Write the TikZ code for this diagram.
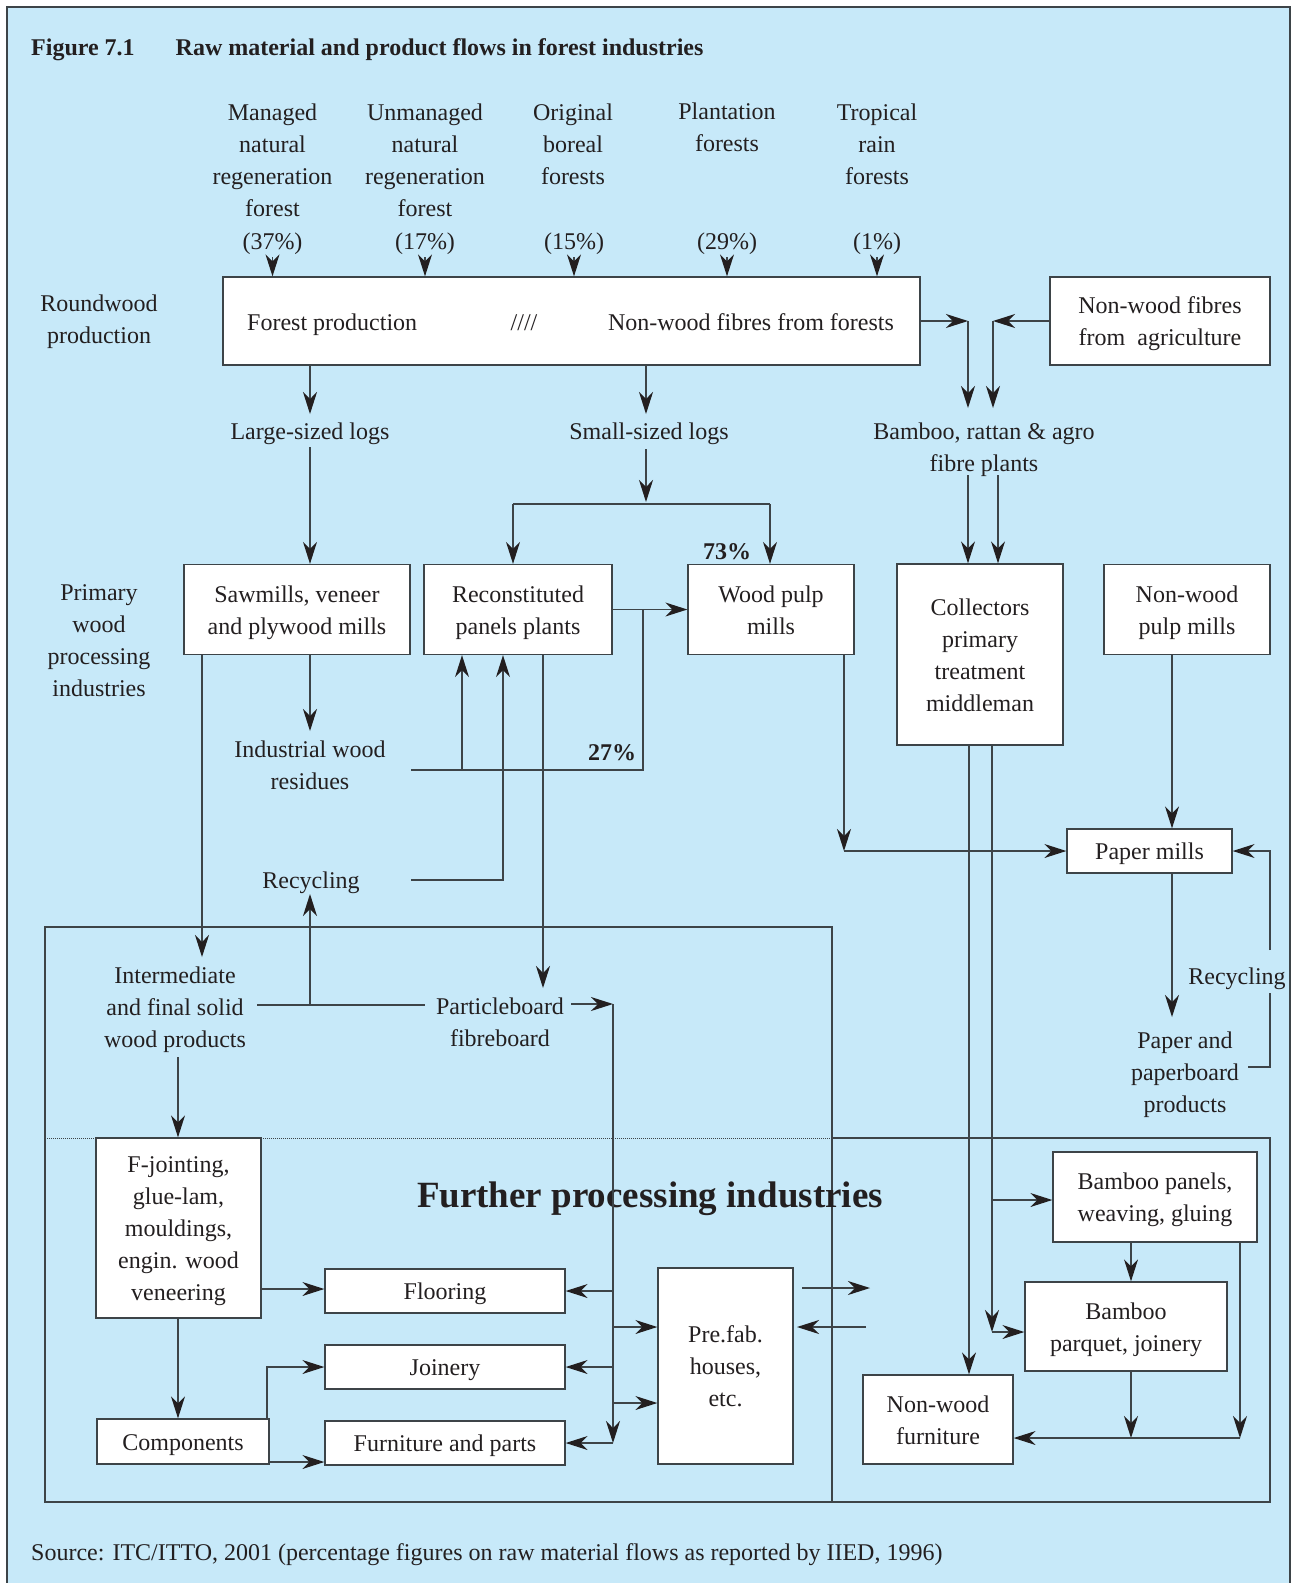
\documentclass[tikz,border=0pt]{standalone}
\usepackage{fontspec}
\setmainfont{Liberation Serif}
\usetikzlibrary{arrows.meta}
\definecolor{bgblue}{HTML}{C7E9F9}
\definecolor{ink}{HTML}{231F20}
\definecolor{linec}{HTML}{3D4448}
\newcommand\TA{\rule{0pt}{27.4pt}}
\newcommand\TB{\rule[-9.6pt]{0pt}{9.6pt}}
\begin{document}
\begin{tikzpicture}[x=1pt,y=-1pt,
  every node/.style={font=\fontsize{24}{32}\selectfont, text=ink, inner sep=0pt},
  box/.style={draw=linec, line width=1.3pt, fill=white, align=center},
  lbl/.style={align=center},
  bold/.style={font=\fontsize{24}{32}\selectfont\bfseries},
  ln/.style={draw=linec, line width=1.3pt},
  arr/.style={ln, -{Stealth[length=22pt,width=14pt,inset=7pt,color=ink]}},
]
\useasboundingbox (0,0) rectangle (1295,1583);
\fill[white] (0,0) rectangle (1295,1583);
\draw[fill=bgblue, draw=linec, line width=1.2pt] (7,7) rectangle (1290,1598);

% regions
\draw[ln] (832,1138) -- (1270,1138) -- (1270,1502) -- (45,1502) -- (45,927) -- (832,927) -- (832,1502);
\draw[linec, densely dotted, line width=1pt] (45,1138) -- (832,1138);

% title
\node[bold, anchor=west] (fig) at (31,47) {\TA Figure 7.1\TB};
\node[bold, anchor=west] (ttl) at (175.5,47) {\TA Raw material and product flows in forest industries\TB};

% top labels
\node[lbl] (ml) at (272.5,159.5) {\TA Managed\\natural\\regeneration\\forest\TB};
\node[lbl] (ul) at (425,159.5) {\TA Unmanaged\\natural\\regeneration\\forest\TB};
\node[lbl] (ol) at (573,143.3) {\TA Original\\boreal\\forests\TB};
\node[lbl] (pl) at (727,127) {\TA Plantation\\forests\TB};
\node[lbl] (tl) at (877,143.3) {\TA Tropical\\rain\\forests\TB};
\node[lbl] (q1) at (272.5,241) {\TA(37\%)\TB};
\node[lbl] (q2) at (425,241) {\TA(17\%)\TB};
\node[lbl] (q3) at (574,241) {\TA(15\%)\TB};
\node[lbl] (q4) at (727,241) {\TA(29\%)\TB};
\node[lbl] (q5) at (877,241) {\TA(1\%)\TB};

% boxes
\node[box, minimum width=697pt, minimum height=88pt] (fp) at (571.5,321) {};
\node[anchor=west] (fpt) at (247,322) {\TA Forest production\TB};
\node (sl) at (524,322) {\TA////\TB};
\node (nwf) at (751,322) {\TA Non-wood fibres from forests\TB};
\node[box, minimum width=220pt, minimum height=88pt] (nwa) at (1160,321) {\TA Non-wood fibres\\from\ \ agriculture\TB};

\node[box, minimum width=226pt, minimum height=90pt] (saw) at (297,609.5) {\TA Sawmills, veneer\\and plywood mills\TB};
\node[box, minimum width=188pt, minimum height=90pt] (rec) at (518,609.5) {\TA Reconstituted\\panels plants\TB};
\node[box, minimum width=166pt, minimum height=90pt] (wp) at (771,609.5) {\TA Wood pulp\\mills\TB};
\node[box, minimum width=166pt, minimum height=181pt] (col) at (980,654.5) {\TA Collectors\\primary\\treatment\\middleman\TB};
\node[box, minimum width=166pt, minimum height=90pt] (nwp) at (1187,609.5) {\TA Non-wood\\pulp mills\TB};
\node[box, minimum width=165pt, minimum height=44pt] (pm) at (1149.5,851) {\TA Paper mills\TB};
\node[box, minimum width=165pt, minimum height=180pt] (fj) at (178.5,1228) {\TA F-jointing,\\glue-lam,\\mouldings,\\engin. wood\\veneering\TB};
\node[box, minimum width=240pt, minimum height=44pt] (fl) at (445,1291) {\TA Flooring\TB};
\node[box, minimum width=240pt, minimum height=44pt] (jo) at (445,1367) {\TA Joinery\TB};
\node[box, minimum width=240pt, minimum height=44pt] (fu) at (445,1443) {\TA Furniture and parts\TB};
\node[box, minimum width=172pt, minimum height=45pt] (co) at (183,1441.5) {\TA Components\TB};
\node[box, minimum width=135pt, minimum height=196pt] (pf) at (725.5,1366) {\TA Pre.fab.\\houses,\\etc.\TB};
\node[box, minimum width=204pt, minimum height=90pt] (bp) at (1155,1197) {\TA Bamboo panels,\\weaving, gluing\TB};
\node[box, minimum width=202pt, minimum height=89pt] (bq) at (1126,1326.5) {\TA Bamboo\\parquet, joinery\TB};
\node[box, minimum width=150pt, minimum height=89pt] (nf) at (938,1419.5) {\TA Non-wood\\furniture\TB};

% labels
\node[lbl] (rw) at (99,319) {\TA Roundwood\\production\TB};
\node[lbl] (pw) at (99,639.5) {\TA Primary\\wood\\processing\\industries\TB};
\node[lbl] (lsl) at (310,431) {\TA Large-sized logs\TB};
\node[lbl] (ssl) at (649,431) {\TA Small-sized logs\TB};
\node[lbl] (bra) at (984,447) {\TA Bamboo, rattan \& agro\\fibre plants\TB};
\node[bold] (p73) at (727,551) {\TA 73\%\TB};
\node[bold] (p27) at (612,752) {\TA 27\%\TB};
\node[lbl] (iwr) at (310,765) {\TA Industrial wood\\residues\TB};
\node[lbl] (recy) at (311,880) {\TA Recycling\TB};
\node[lbl] (ifs) at (175,1007) {\TA Intermediate\\and final solid\\wood products\TB};
\node[lbl] (pb) at (500,1022) {\TA Particleboard\\fibreboard\TB};
\node[font=\fontsize{37}{40}\selectfont\bfseries] (fpi) at (650,1199) {Further processing industries};
\node[lbl] (ppp) at (1185,1072) {\TA Paper and\\paperboard\\products\TB};
\node[lbl] (recy2) at (1237,976) {\TA Recycling\TB};
\node[anchor=west] (src) at (31,1552) {\TA Source: ITC/ITTO, 2001 (percentage figures on raw material flows as reported by IIED, 1996)\TB};

% helper levels
\coordinate (y257) at (0,257);
\coordinate (y414) at (0,414);
\coordinate (y447) at (0,447);
\coordinate (y731) at (0,731);
\coordinate (y894) at (0,894);

% connectors: top
\foreach \q in {q1,q2,q3,q4,q5} \draw[arr] (\q |- y257) -- (\q |- fp.north);

\coordinate (j1) at (968,321); \coordinate (j1d) at (968,408);
\coordinate (j2) at (993,321); \coordinate (j2d) at (993,408);
\draw[arr] (fp.east) -- (j1);
\draw[arr] (j1) -- (j1d);
\draw[arr] (nwa.west) -- (j2);
\draw[arr] (j2) -- (j2d);
\coordinate (k1) at (968,475); \coordinate (k2) at (998,475);
\draw[arr] (k1) -- (k1 |- col.north);
\draw[arr] (k2) -- (k2 |- col.north);

% logs
\coordinate (s1) at (646,0);
\draw[arr] (fp.south -| lsl) -- (lsl |- y414);
\draw[arr] (fp.south -| s1) -- (s1 |- y414);
\draw[arr] (lsl |- y447) -- (lsl |- saw.north);
\coordinate (s0) at (646,449);
\coordinate (s2) at (646,502); \coordinate (s3) at (513,504); \coordinate (s4) at (770,504);
\draw[arr] (s0) -- (s2);
\draw[ln] (s3) -- (s4);
\draw[arr] (s3) -- (s3 |- rec.north);
\draw[arr] (s4) -- (s4 |- wp.north);

% panels -> pulp
\draw[arr] (rec.east) -- (wp.west);
\coordinate (r1) at (411,770); \coordinate (r2) at (643,770); \coordinate (r3) at (643,609.5); \coordinate (r4) at (462,770);
\draw[ln] (r1) -- (r2) -- (r3);
\draw[arr] (r4) -- (r4 |- rec.south);
\coordinate (c1) at (411,880); \coordinate (c2) at (503,880);
\draw[arr] (c1) -- (c2) -- (c2 |- rec.south);

% sawmills
\draw[arr] (saw.south -| iwr) -- (iwr |- y731);
\coordinate (w1) at (202,957);
\draw[arr] (saw.south -| w1) -- (w1);
\coordinate (w2) at (543,988);
\draw[arr] (rec.south -| w2) -- (w2);

% pulp -> paper
\coordinate (w3) at (844,851);
\draw[arr] (wp.south -| w3) -- (w3);
\draw[arr] (w3) -- (pm.west);
\coordinate (w4) at (1172,0);
\draw[arr] (nwp.south -| w4) -- (pm.north -| w4);
\coordinate (w5) at (1172,1017);
\draw[arr] (pm.south -| w5) -- (w5);
\coordinate (v1) at (1248,1067); \coordinate (v2) at (1270,1067); \coordinate (v3) at (1270,993);
\coordinate (v4) at (1270,950); \coordinate (v5) at (1270,851);
\draw[ln] (v1) -- (v2) -- (v3);
\draw[arr] (v4) -- (v5) -- (pm.east);

% intermediate / particleboard
\coordinate (h1) at (257,1005); \coordinate (h2) at (425,1005); \coordinate (h3) at (310,1005);
\draw[ln] (h1) -- (h2);
\draw[arr] (h3) -- (h3 |- y894);
\coordinate (g1) at (571,1004); \coordinate (g2) at (613,1004); \coordinate (g3) at (613,1443);
\draw[arr] (g1) -- (g2);
\draw[arr] (g2) -- (g3);
\draw[arr] (g3) -- (fu.east);
\coordinate (g4) at (613,1291); \coordinate (g5) at (613,1367); \coordinate (g6) at (613,1327); \coordinate (g7) at (613,1403);
\draw[arr] (g4) -- (fl.east);
\draw[arr] (g5) -- (jo.east);
\draw[arr] (g6) -- (pf.west |- g6);
\draw[arr] (g7) -- (pf.west |- g7);

% further processing
\coordinate (f1) at (178,1057);
\draw[arr] (f1) -- (f1 |- fj.north);
\coordinate (f2) at (0,1289);
\draw[arr] (fj.east |- f2) -- (fl.west |- f2);
\draw[arr] (fj.south -| f1) -- (co.north -| f1);
\coordinate (f3) at (267,0);
\draw[arr] (co.north -| f3) -- (f3 |- jo.west) -- (jo.west);
\coordinate (f4) at (0,1462);
\draw[arr] (co.east |- f4) -- (fu.west |- f4);

\coordinate (e1) at (802,1288); \coordinate (e2) at (870,1288);
\coordinate (e3) at (866,1327); \coordinate (e4) at (797,1327);
\draw[arr] (e1) -- (e2);
\draw[arr] (e3) -- (e4);

% collectors
\coordinate (m1) at (969,0); \coordinate (m2) at (992,1332); \coordinate (m3) at (992,1200);
\draw[arr] (col.south -| m1) -- (nf.north -| m1);
\draw[arr] (col.south -| m2) -- (m2);
\draw[arr] (m2) -- (bq.west |- m2);
\draw[arr] (m3) -- (bp.west |- m3);

% bamboo
\coordinate (b1) at (1131,0); \coordinate (b2) at (1131,1438);
\coordinate (b3) at (1240,0); \coordinate (b4) at (1240,1438);
\draw[arr] (bp.south -| b1) -- (bq.north -| b1);
\draw[arr] (bq.south -| b1) -- (b2);
\draw[arr] (bp.south -| b3) -- (b4);
\draw[arr] (b4) -- (nf.east |- b4);
\end{tikzpicture}
\end{document}
